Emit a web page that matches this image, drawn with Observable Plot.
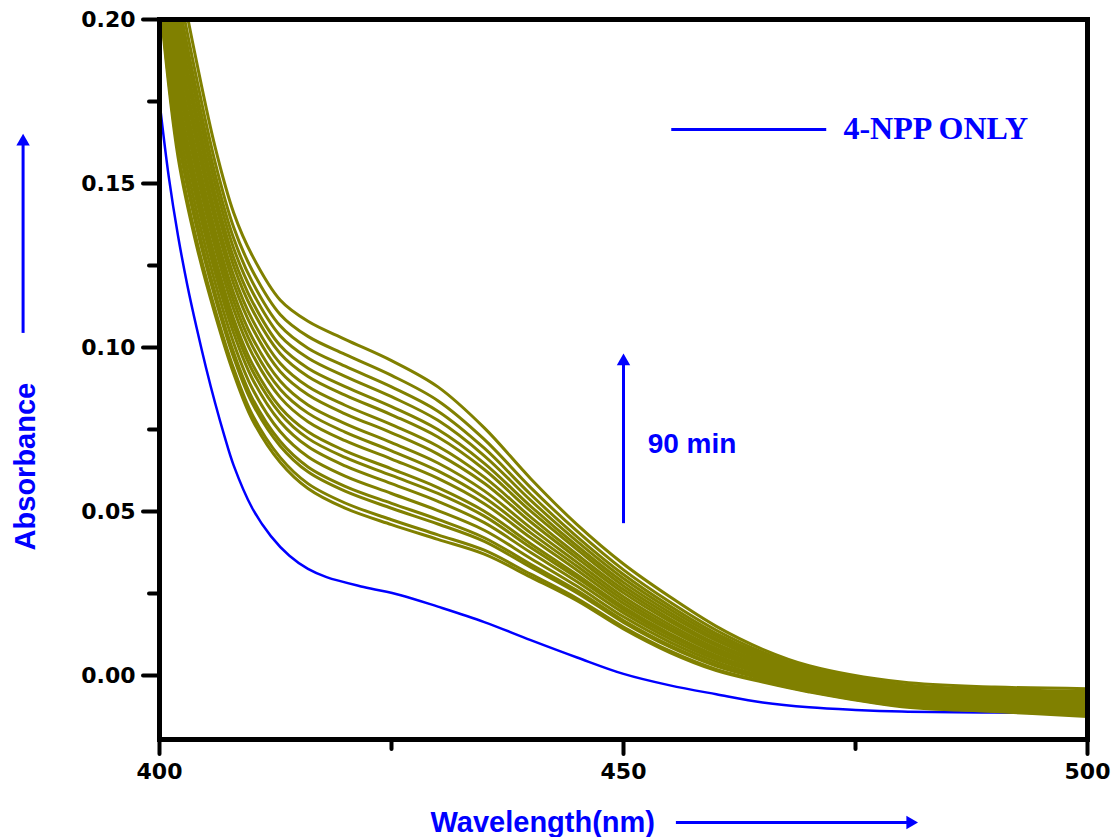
<!DOCTYPE html>
<html>
<head>
<meta charset="utf-8">
<script src="https://cdn.jsdelivr.net/npm/d3@7"></script>
<script src="https://cdn.jsdelivr.net/npm/@observablehq/plot@0.6"></script>
<style>
  html, body { margin: 0; padding: 0; background: #ffffff; }
  #chart { width: 1112px; height: 837px; }
</style>
</head>
<body>
<div id="chart"></div>
<script>
// ---- Data ----
// Wavelength grid (nm) for the kinetic spectra
const wavelengths = [400, 402, 404, 406, 408, 410, 413, 416, 420, 425, 430, 435, 440, 445, 450, 455, 460, 465, 470, 480, 490, 500];
// Reaction time of each olive spectrum (min), 0 .. 90
const times = [0, 5, 10, 15, 20, 25, 30, 35, 40, 45, 50, 55, 60, 65, 70, 75, 80, 85, 90];

// Absorbance of each spectrum (in time order) at each wavelength
const abs400 = [0.207, 0.2083, 0.2113, 0.2126, 0.2152, 0.2178, 0.2199, 0.2216, 0.2242, 0.2264, 0.2285, 0.2311, 0.2332, 0.2358, 0.2380, 0.2405, 0.2431, 0.2461, 0.250];
const abs402 = [0.158, 0.1597, 0.1638, 0.1655, 0.1690, 0.1725, 0.1754, 0.1777, 0.1812, 0.1841, 0.1870, 0.1905, 0.1934, 0.1969, 0.1998, 0.2032, 0.2067, 0.2108, 0.216];
const abs404 = [0.131, 0.1327, 0.1366, 0.1383, 0.1416, 0.1450, 0.1478, 0.1500, 0.1534, 0.1562, 0.1590, 0.1624, 0.1652, 0.1685, 0.1713, 0.1747, 0.1780, 0.1820, 0.187];
const abs406 = [0.110, 0.1115, 0.1151, 0.1166, 0.1197, 0.1228, 0.1253, 0.1273, 0.1304, 0.1330, 0.1355, 0.1386, 0.1411, 0.1442, 0.1467, 0.1498, 0.1528, 0.1564, 0.161];
const abs408 = [0.092, 0.0935, 0.0969, 0.0984, 0.1013, 0.1043, 0.1067, 0.1087, 0.1116, 0.1141, 0.1165, 0.1194, 0.1219, 0.1248, 0.1273, 0.1302, 0.1332, 0.1366, 0.141];
const abs410 = [0.078, 0.0795, 0.0830, 0.0845, 0.0875, 0.0905, 0.0930, 0.0950, 0.0980, 0.1005, 0.1030, 0.1060, 0.1085, 0.1115, 0.1140, 0.1170, 0.1200, 0.1235, 0.128];
const abs413 = [0.065, 0.0665, 0.0700, 0.0714, 0.0744, 0.0774, 0.0799, 0.0818, 0.0848, 0.0873, 0.0898, 0.0927, 0.0952, 0.0982, 0.1006, 0.1036, 0.1066, 0.1101, 0.1145];
const abs416 = [0.057, 0.0585, 0.0621, 0.0636, 0.0667, 0.0698, 0.0723, 0.0743, 0.0774, 0.0800, 0.0825, 0.0856, 0.0881, 0.0912, 0.0937, 0.0968, 0.0998, 0.1034, 0.108];
const abs420 = [0.051, 0.0526, 0.0562, 0.0577, 0.0608, 0.0639, 0.0665, 0.0685, 0.0716, 0.0742, 0.0768, 0.0798, 0.0824, 0.0855, 0.0881, 0.0912, 0.0943, 0.0979, 0.1025];
const abs425 = [0.046, 0.0475, 0.0510, 0.0525, 0.0555, 0.0585, 0.0610, 0.0630, 0.0660, 0.0685, 0.0710, 0.0740, 0.0765, 0.0795, 0.0820, 0.0850, 0.0880, 0.0915, 0.096];
const abs430 = [0.0415, 0.0429, 0.0462, 0.0476, 0.0503, 0.0531, 0.0555, 0.0573, 0.0601, 0.0624, 0.0648, 0.0675, 0.0699, 0.0727, 0.0750, 0.0778, 0.0806, 0.0838, 0.088];
const abs435 = [0.037, 0.0382, 0.0409, 0.0420, 0.0443, 0.0466, 0.0486, 0.0501, 0.0524, 0.0543, 0.0563, 0.0586, 0.0605, 0.0628, 0.0647, 0.0670, 0.0693, 0.0720, 0.0755];
const abs440 = [0.030, 0.0309, 0.0330, 0.0339, 0.0357, 0.0375, 0.0390, 0.0402, 0.0420, 0.0435, 0.0450, 0.0468, 0.0483, 0.0501, 0.0516, 0.0534, 0.0552, 0.0573, 0.060];
const abs445 = [0.0228, 0.0235, 0.0252, 0.0259, 0.0272, 0.0286, 0.0298, 0.0307, 0.0321, 0.0333, 0.0345, 0.0358, 0.0369, 0.0384, 0.0395, 0.0409, 0.0423, 0.0440, 0.046];
const abs450 = [0.0142, 0.0148, 0.0162, 0.0168, 0.0179, 0.0191, 0.0201, 0.0209, 0.0220, 0.0230, 0.0240, 0.0252, 0.0262, 0.0273, 0.0284, 0.0296, 0.0308, 0.0322, 0.034];
const abs455 = [0.0070, 0.0075, 0.0087, 0.0092, 0.0102, 0.0112, 0.0121, 0.0128, 0.0138, 0.0146, 0.0155, 0.0165, 0.0173, 0.0183, 0.0192, 0.0202, 0.0212, 0.0224, 0.024];
const abs460 = [0.0015, 0.0019, 0.0029, 0.0033, 0.0041, 0.0049, 0.0056, 0.0061, 0.0069, 0.0076, 0.0083, 0.0091, 0.0097, 0.0106, 0.0112, 0.0120, 0.0128, 0.0138, 0.015];
const abs465 = [-0.002, -0.0017, -0.0010, -0.0007, -0.0001, 0.0005, 0.0010, 0.0014, 0.0020, 0.0025, 0.0030, 0.0036, 0.0041, 0.0047, 0.0052, 0.0058, 0.0064, 0.0071, 0.008];
const abs470 = [-0.005, -0.0048, -0.0042, -0.0040, -0.0035, -0.0030, -0.0026, -0.0023, -0.0018, -0.0014, -0.0010, -0.0005, -0.0001, 0.0004, 0.0008, 0.0012, 0.0017, 0.0023, 0.003];
const abs480 = [-0.0095, -0.0093, -0.0088, -0.0085, -0.0081, -0.0076, -0.0073, -0.0070, -0.0065, -0.0061, -0.0058, -0.0053, -0.0049, -0.0045, -0.0041, -0.0037, -0.0032, -0.0027, -0.002];
const abs490 = [-0.011, -0.0108, -0.0103, -0.0100, -0.0096, -0.0091, -0.0088, -0.0085, -0.0080, -0.0076, -0.0073, -0.0068, -0.0064, -0.0060, -0.0056, -0.0052, -0.0047, -0.0042, -0.0035];
const abs500 = [-0.0125, -0.0122, -0.0117, -0.0114, -0.0109, -0.0104, -0.0100, -0.0096, -0.0091, -0.0087, -0.0083, -0.0077, -0.0073, -0.0068, -0.0064, -0.0059, -0.0054, -0.0048, -0.004];

// "4-NPP ONLY" reference spectrum
const npWavelengths = [400, 401, 402, 403, 404, 405, 406, 407, 408, 410, 412, 414, 416, 418, 422, 426, 430, 435, 440, 445, 450, 455, 460, 465, 470, 475, 480, 490, 500];
const npAbsorbance  = [0.175, 0.152, 0.134, 0.119, 0.106, 0.094, 0.083, 0.073, 0.064, 0.051, 0.0425, 0.0365, 0.0325, 0.030, 0.027, 0.0245, 0.021, 0.0163, 0.0108, 0.0055, 0.0005, -0.0030, -0.0057, -0.0082, -0.0097, -0.0105, -0.0110, -0.0113, -0.0114];

// Axis ticks
const xMajorTicks = [400, 450, 500];
const xMinorTicks = [425, 475];
const yMajorTicks = [0, 0.05, 0.10, 0.15, 0.20];
const yMinorTicks = [0.025, 0.075, 0.125, 0.175];

// ---- Build tables ----
const columns = [abs400, abs402, abs404, abs406, abs408, abs410, abs413, abs416, abs420, abs425, abs430, abs435, abs440, abs445, abs450, abs455, abs460, abs465, abs470, abs480, abs490, abs500];
const kinetic = [];
times.forEach((t, i) => {
  columns.forEach((col, j) => kinetic.push({t, w: wavelengths[j], a: col[i]}));
});
const npp = npWavelengths.map((w, i) => ({w, a: npAbsorbance[i]}));

const BLUE = "#0000ff";
const OLIVE = "#808000";
const sans = "Liberation Sans, Arial, sans-serif";
const tickFont = "DejaVu Sans, Verdana, sans-serif";

const chart = Plot.plot({
  width: 1112,
  height: 837,
  marginLeft: 159,
  marginRight: 25,
  marginTop: 19,
  marginBottom: 98,
  style: {background: "#ffffff", color: "#000000", overflow: "visible"},
  x: {domain: [400, 500]},
  y: {domain: [-0.0195, 0.20]},
  marks: [
    // spectra
    Plot.line(npp, {x: "w", y: "a", stroke: BLUE, strokeWidth: 2.5, curve: "catmull-rom", clip: true}),
    Plot.line(kinetic, {x: "w", y: "a", z: "t", stroke: OLIVE, strokeWidth: 3, curve: "catmull-rom", clip: true}),
    // frame
    Plot.frame({stroke: "#000000", strokeWidth: 5}),
    // axes
    Plot.axisY({ticks: yMajorTicks, tickSize: 16, tickPadding: 8, tickFormat: d3.format(".2f"), strokeWidth: 4, strokeLinecap: "round",
                fontSize: 22, fontWeight: "bold", fontFamily: tickFont, label: null}),
    Plot.axisY({ticks: yMinorTicks, tickSize: 10, tickFormat: () => "", strokeWidth: 4, strokeLinecap: "round", label: null}),
    Plot.axisX({ticks: xMajorTicks, tickSize: 15, tickPadding: 9, tickFormat: d3.format("d"), strokeWidth: 4, strokeLinecap: "round",
                fontSize: 22, fontWeight: "bold", fontFamily: tickFont, label: null}),
    Plot.axisX({ticks: xMinorTicks, tickSize: 10, tickFormat: () => "", strokeWidth: 4, strokeLinecap: "round", label: null}),
    // legend
    Plot.ruleY([0.1665], {x1: 455.2, x2: 471.9, stroke: BLUE, strokeWidth: 3}),
    Plot.text(["4-NPP ONLY"], {x: 473.7, y: 0.1668, text: d => d, textAnchor: "start", fill: BLUE,
                               fontFamily: "Liberation Serif, Times New Roman, serif", fontWeight: "bold", fontSize: 32}),
    // time arrow
    Plot.ruleX([450], {y1: 0.0463, y2: 0.0950, stroke: BLUE, strokeWidth: 3}),
    Plot.dot([0], {x: 450, y: 0.0958, symbol: "triangle", r: 5, fill: BLUE, stroke: null}),
    Plot.text(["90 min"], {x: 452.6, y: 0.0707, text: d => d, textAnchor: "start", fill: BLUE,
                           fontFamily: sans, fontWeight: "bold", fontSize: 28}),
    // y axis title with arrow
    Plot.text(["Absorbance"], {x: 385.6, y: 0.0637, text: d => d, rotate: -90, fill: BLUE,
                               fontFamily: sans, fontWeight: "bold", fontSize: 29}),
    Plot.ruleX([385.3], {y1: 0.1043, y2: 0.1620, stroke: BLUE, strokeWidth: 3}),
    Plot.dot([0], {x: 385.3, y: 0.1628, symbol: "triangle", r: 5, fill: BLUE, stroke: null}),
    // x axis title with arrow
    Plot.text(["Wavelength(nm)"], {x: 441.3, y: -0.0448, text: d => d, fill: BLUE,
                                   fontFamily: sans, fontWeight: "bold", fontSize: 29}),
    Plot.ruleY([-0.0448], {x1: 455.7, x2: 480.6, stroke: BLUE, strokeWidth: 3}),
    Plot.dot([0], {x: 480.9, y: -0.0448, symbol: "triangle", rotate: 90, r: 5, fill: BLUE, stroke: null})
  ]
});
document.getElementById("chart").appendChild(chart);
</script>
</body>
</html>
